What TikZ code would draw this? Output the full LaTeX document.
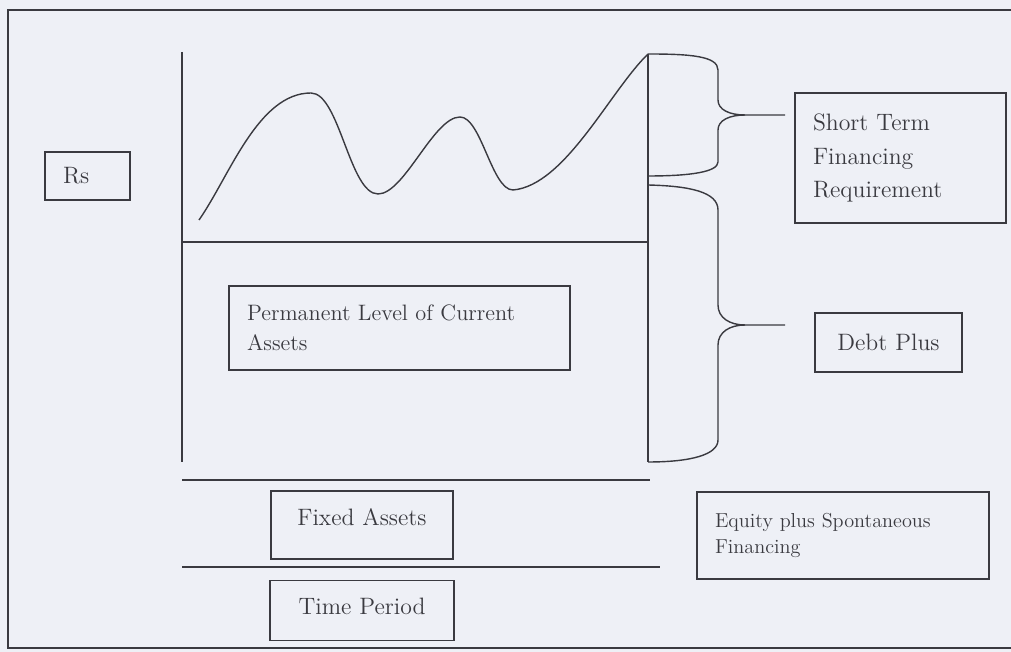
\documentclass[tikz,border=0pt]{standalone}
\usepackage{tikz}
\usetikzlibrary{positioning,calc}
\definecolor{paper}{RGB}{238,240,246}
\definecolor{ink}{RGB}{58,58,64}

\begin{document}
\begin{tikzpicture}
[x=0.02cm,y=0.02cm,
every node/.style={draw=ink,fill=paper,rectangle,line width=.9pt,inner xsep=0.36cm,inner ysep=0pt,
  font=\fontsize{13.5}{19}\selectfont,text=ink},
rule/.style={draw=ink,line width=.9pt},
brace/.style={draw=ink,line width=.8pt}]
\fill[paper] (0,0) rectangle (1011,652);
\useasboundingbox (0,0) rectangle (1011,652);
\draw[draw=ink,line width=1pt] (1011,642) -- (8,642) -- (8,4) -- (1011,4);

% axes
\coordinate (top) at (182,600);
\coordinate (orig) at (182,190);
\coordinate (end) at (648,598);
\coordinate (endlow) at (648,190);
\draw[rule] (top) -- (orig);
\draw[rule] (end) -- (endlow);
\draw[rule] (182,410) -- (648,410);
\draw[rule] (182,172) -- (650,172);
\draw[rule] (182,85) -- (660,85);

% fluctuating current assets
\draw[rule,line width=.8pt] (199,432) to[out=55,in=180,looseness=.8] (311,559)
  to[out=0,in=180,looseness=.6] (378,458) to[out=0,in=180,looseness=.6] (460,535)
  to[out=0,in=180,looseness=.6] (513,462) to[out=5,in=224,looseness=.7] (end);

% braces
\coordinate (tipA) at (785,537);
\coordinate (tipB) at (785,327);
\draw[brace] (end) .. controls (690,598) and (718,596) .. (718,582) -- (718,552)
  .. controls (718,542) and (730,537) .. (745,537) -- (tipA);
\draw[brace] (745,537) .. controls (730,537) and (718,532) .. (718,522) -- (718,490)
  .. controls (718,480) and (690,476) .. (648,476);
\draw[brace] (648,467) .. controls (690,466) and (718,460) .. (718,442) -- (718,347)
  .. controls (718,334) and (730,327) .. (745,327) -- (tipB);
\draw[brace] (745,327) .. controls (730,327) and (718,320) .. (718,307) -- (718,212)
  .. controls (718,197) and (690,190) .. (endlow);

% boxes
\node[text width=0.98cm,minimum height=0.96cm,align=left] (rs) at (87.5,476) {Rs};
\node[text width=3.5cm,minimum height=2.6cm,align=left] (short) at (900.5,494)
  {Short Term\\Financing\\Requirement};
\node[text width=2.22cm,minimum height=1.18cm,align=center] (debt) at (888.5,309.5) {Debt Plus};
\node[text width=6.1cm,minimum height=1.68cm,align=left,font=\fontsize{12.7}{17}\selectfont] (perm)
  at (399.5,324) {Permanent Level of Current\\Assets};
\node[text width=2.92cm,minimum height=1.36cm,align=center,text depth=.32cm] (fixed) at (362,127) {Fixed Assets};
\node[text width=2.96cm,minimum height=1.2cm,align=center,text depth=.16cm,below=0.4cm of fixed] (time) {Time Period};
\node[text width=5.12cm,minimum height=1.74cm,align=left,font=\fontsize{11.5}{15}\selectfont] (equity)
  at (843,116.5) {Equity plus Spontaneous\\Financing};
\end{tikzpicture}
\end{document}
